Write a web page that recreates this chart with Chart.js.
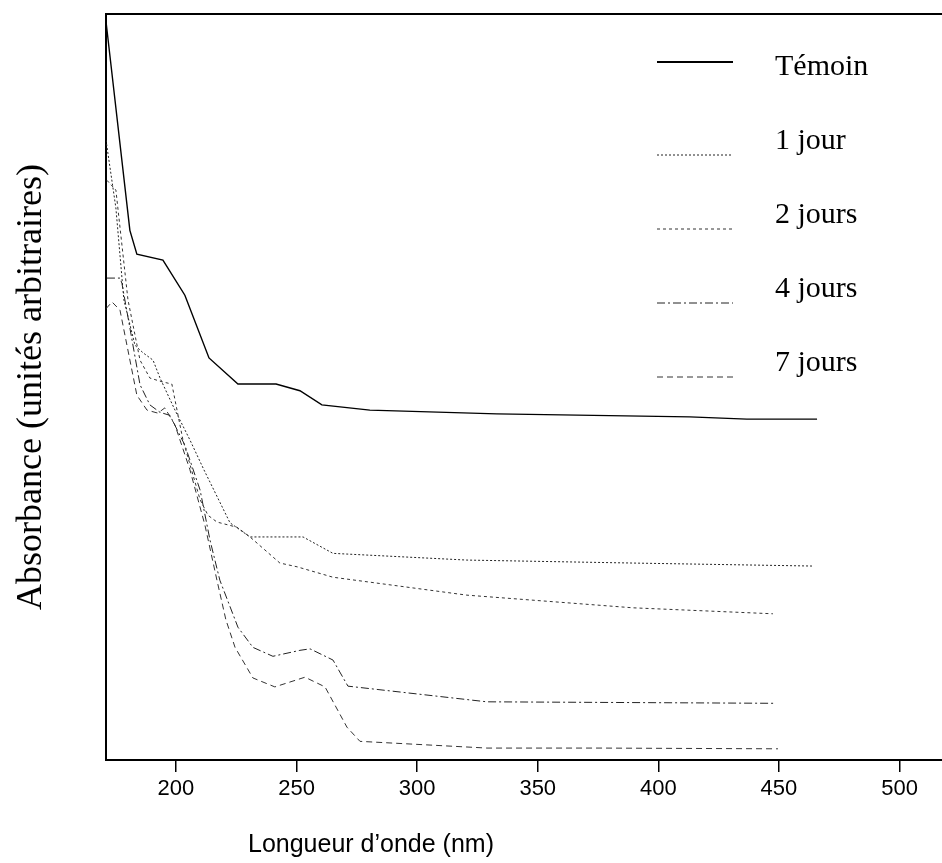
<!DOCTYPE html>
<html>
<head>
<meta charset="utf-8">
<script src="https://cdn.jsdelivr.net/npm/chart.js@4/dist/chart.umd.min.js"></script>
<style>
  html, body { margin: 0; padding: 0; background: #fff; }
  canvas { display: block; }
</style>
</head>
<body>
<canvas id="spectre" width="942" height="863"></canvas>
<script>
const seriesNames = ['Témoin', '1 jour', '2 jours', '4 jours', '7 jours'];
const xTicks = [200, 250, 300, 350, 400, 450, 500];
const xTitle = 'Longueur d\u2019onde (nm)';
const yTitle = 'Absorbance (unités arbitraires)';

// longueur d'onde (nm) / absorbance (u.a.)
const temoinNm = [171.0, 180.9, 183.8, 194.6, 203.7, 213.7, 225.7, 241.5, 251.4, 260.5, 280.4, 333.0, 413.0, 436.7, 465.8];
const temoinAbs = [99.0, 71.0, 67.8, 67.0, 62.3, 53.9, 50.4, 50.4, 49.5, 47.6, 46.9, 46.4, 46.0, 45.7, 45.7];

const jour1Nm = [171.0, 175.1, 178.4, 183.0, 186.3, 190.5, 193.4, 199.6, 205.8, 211.6, 222.4, 230.7, 252.7, 265.1, 320.6, 389.5, 463.7];
const jour1Abs = [83.1, 74.0, 61.7, 55.6, 54.6, 53.6, 51.2, 46.9, 42.9, 38.9, 31.8, 29.9, 29.9, 27.7, 26.8, 26.4, 26.0];

const jours2Nm = [171.4, 175.1, 180.1, 185.1, 189.2, 194.2, 198.3, 202.9, 210.0, 213.3, 217.0, 225.3, 230.7, 243.1, 250.2, 265.1, 320.6, 389.5, 447.5];
const jours2Abs = [77.7, 76.4, 61.7, 53.6, 51.2, 50.7, 50.4, 42.9, 34.9, 32.8, 31.9, 31.2, 29.9, 26.4, 25.9, 24.5, 22.1, 20.4, 19.6];

const jours4Nm = [171.4, 176.8, 177.6, 185.1, 189.2, 193.4, 197.5, 203.7, 210.0, 214.1, 218.2, 225.7, 231.9, 240.2, 251.4, 255.6, 265.1, 271.3, 328.9, 448.3];
const jours4Abs = [64.6, 64.6, 63.9, 50.3, 47.6, 46.6, 46.2, 42.2, 36.2, 29.5, 24.1, 17.8, 15.1, 13.9, 14.7, 14.9, 13.4, 9.9, 7.8, 7.6];

const jours7Nm = [171.0, 173.5, 176.8, 183.8, 188.0, 192.5, 195.4, 199.6, 205.8, 212.0, 217.0, 220.7, 224.5, 231.9, 241.0, 253.5, 261.8, 270.9, 276.3, 328.9, 375.8, 449.6];
const jours7Abs = [60.5, 61.4, 60.3, 48.9, 46.9, 46.5, 47.2, 44.9, 38.9, 31.5, 24.1, 18.8, 15.1, 11.0, 9.8, 11.1, 9.8, 4.4, 2.5, 1.6, 1.6, 1.5];

const toPoints = (xs, ys) => xs.map((x, i) => ({ x: x, y: ys[i] }));

const serif = '"Liberation Serif", "Times New Roman", serif';
const sans = '"Liberation Sans", Arial, sans-serif';

function makeSet(name, xs, ys, dash, width, color) {
    return {
        label: name,
        data: toPoints(xs, ys),
        borderColor: color,
        borderWidth: width,
        borderDash: dash,
        pointRadius: 0,
        tension: 0,
        fill: false
    };
}

// legend inside the plot (top right), top frame line and the x title,
// which sits left of centre in the original
const extrasPlugin = {
    id: 'extras',
    afterDraw(chart) {
        const { ctx, chartArea } = chart;
        ctx.save();
        chart.data.datasets.forEach((ds, i) => {
            const textY = chartArea.top + 53 + i * 74;
            const lineY = textY + (i === 0 ? -5 : 14);
            ctx.beginPath();
            ctx.setLineDash(ds.borderDash);
            ctx.lineWidth = i === 0 ? 2 : 1;
            ctx.strokeStyle = ds.borderColor;
            ctx.moveTo(chartArea.left + 551, lineY);
            ctx.lineTo(chartArea.left + 627, lineY);
            ctx.stroke();
            ctx.setLineDash([]);
            ctx.fillStyle = '#000';
            ctx.font = '30px ' + serif;
            ctx.textBaseline = 'middle';
            ctx.textAlign = 'left';
            ctx.fillText(ds.label, chartArea.left + 669, textY);
        });

        ctx.beginPath();
        ctx.lineWidth = 2;
        ctx.strokeStyle = '#000';
        ctx.moveTo(chartArea.left, chartArea.top);
        ctx.lineTo(chartArea.right, chartArea.top);
        ctx.stroke();

        ctx.fillStyle = '#000';
        ctx.font = '25px ' + sans;
        ctx.textAlign = 'center';
        ctx.textBaseline = 'middle';
        ctx.fillText(xTitle, chartArea.left + 265, chart.height - 18);
        ctx.restore();
    }
};

const ctx = document.getElementById('spectre').getContext('2d');
new Chart(ctx, {
    type: 'line',
    data: {
        datasets: [
            makeSet(seriesNames[0], temoinNm, temoinAbs, [], 1.4, '#000'),
            makeSet(seriesNames[1], jour1Nm, jour1Abs, [2, 2], 1, '#222'),
            makeSet(seriesNames[2], jours2Nm, jours2Abs, [3, 3], 1, '#333'),
            makeSet(seriesNames[3], jours4Nm, jours4Abs, [8, 3, 2, 3], 1, '#222'),
            makeSet(seriesNames[4], jours7Nm, jours7Abs, [6, 4], 1, '#333')
        ]
    },
    options: {
        responsive: false,
        animation: false,
        devicePixelRatio: 1,
        layout: { padding: { top: 14, right: 0, left: 0, bottom: 0 } },
        plugins: {
            legend: { display: false },
            tooltip: { enabled: false }
        },
        scales: {
            x: {
                type: 'linear',
                min: 171,
                max: 517.6,
                afterBuildTicks: scale => {
                    scale.ticks = xTicks.map(v => ({ value: v }));
                },
                afterFit: scale => { scale.height = 103; },
                ticks: {
                    color: '#000',
                    padding: 4,
                    maxRotation: 0,
                    font: { family: sans, size: 22 },
                    callback: v => String(v)
                },
                grid: {
                    drawOnChartArea: false,
                    drawTicks: true,
                    tickLength: 12,
                    color: '#000',
                    lineWidth: 1.5
                },
                border: { display: true, color: '#000', width: 2 },
                title: { display: false }
            },
            y: {
                type: 'linear',
                min: 0,
                max: 100,
                afterFit: scale => { scale.width = 106; },
                ticks: { display: false },
                grid: { display: false },
                border: { display: true, color: '#000', width: 2 },
                title: {
                    display: true,
                    text: yTitle,
                    color: '#000',
                    font: { family: serif, size: 36 },
                    padding: { top: 10, bottom: 0 }
                }
            }
        }
    },
    plugins: [extrasPlugin]
});
</script>
</body>
</html>
